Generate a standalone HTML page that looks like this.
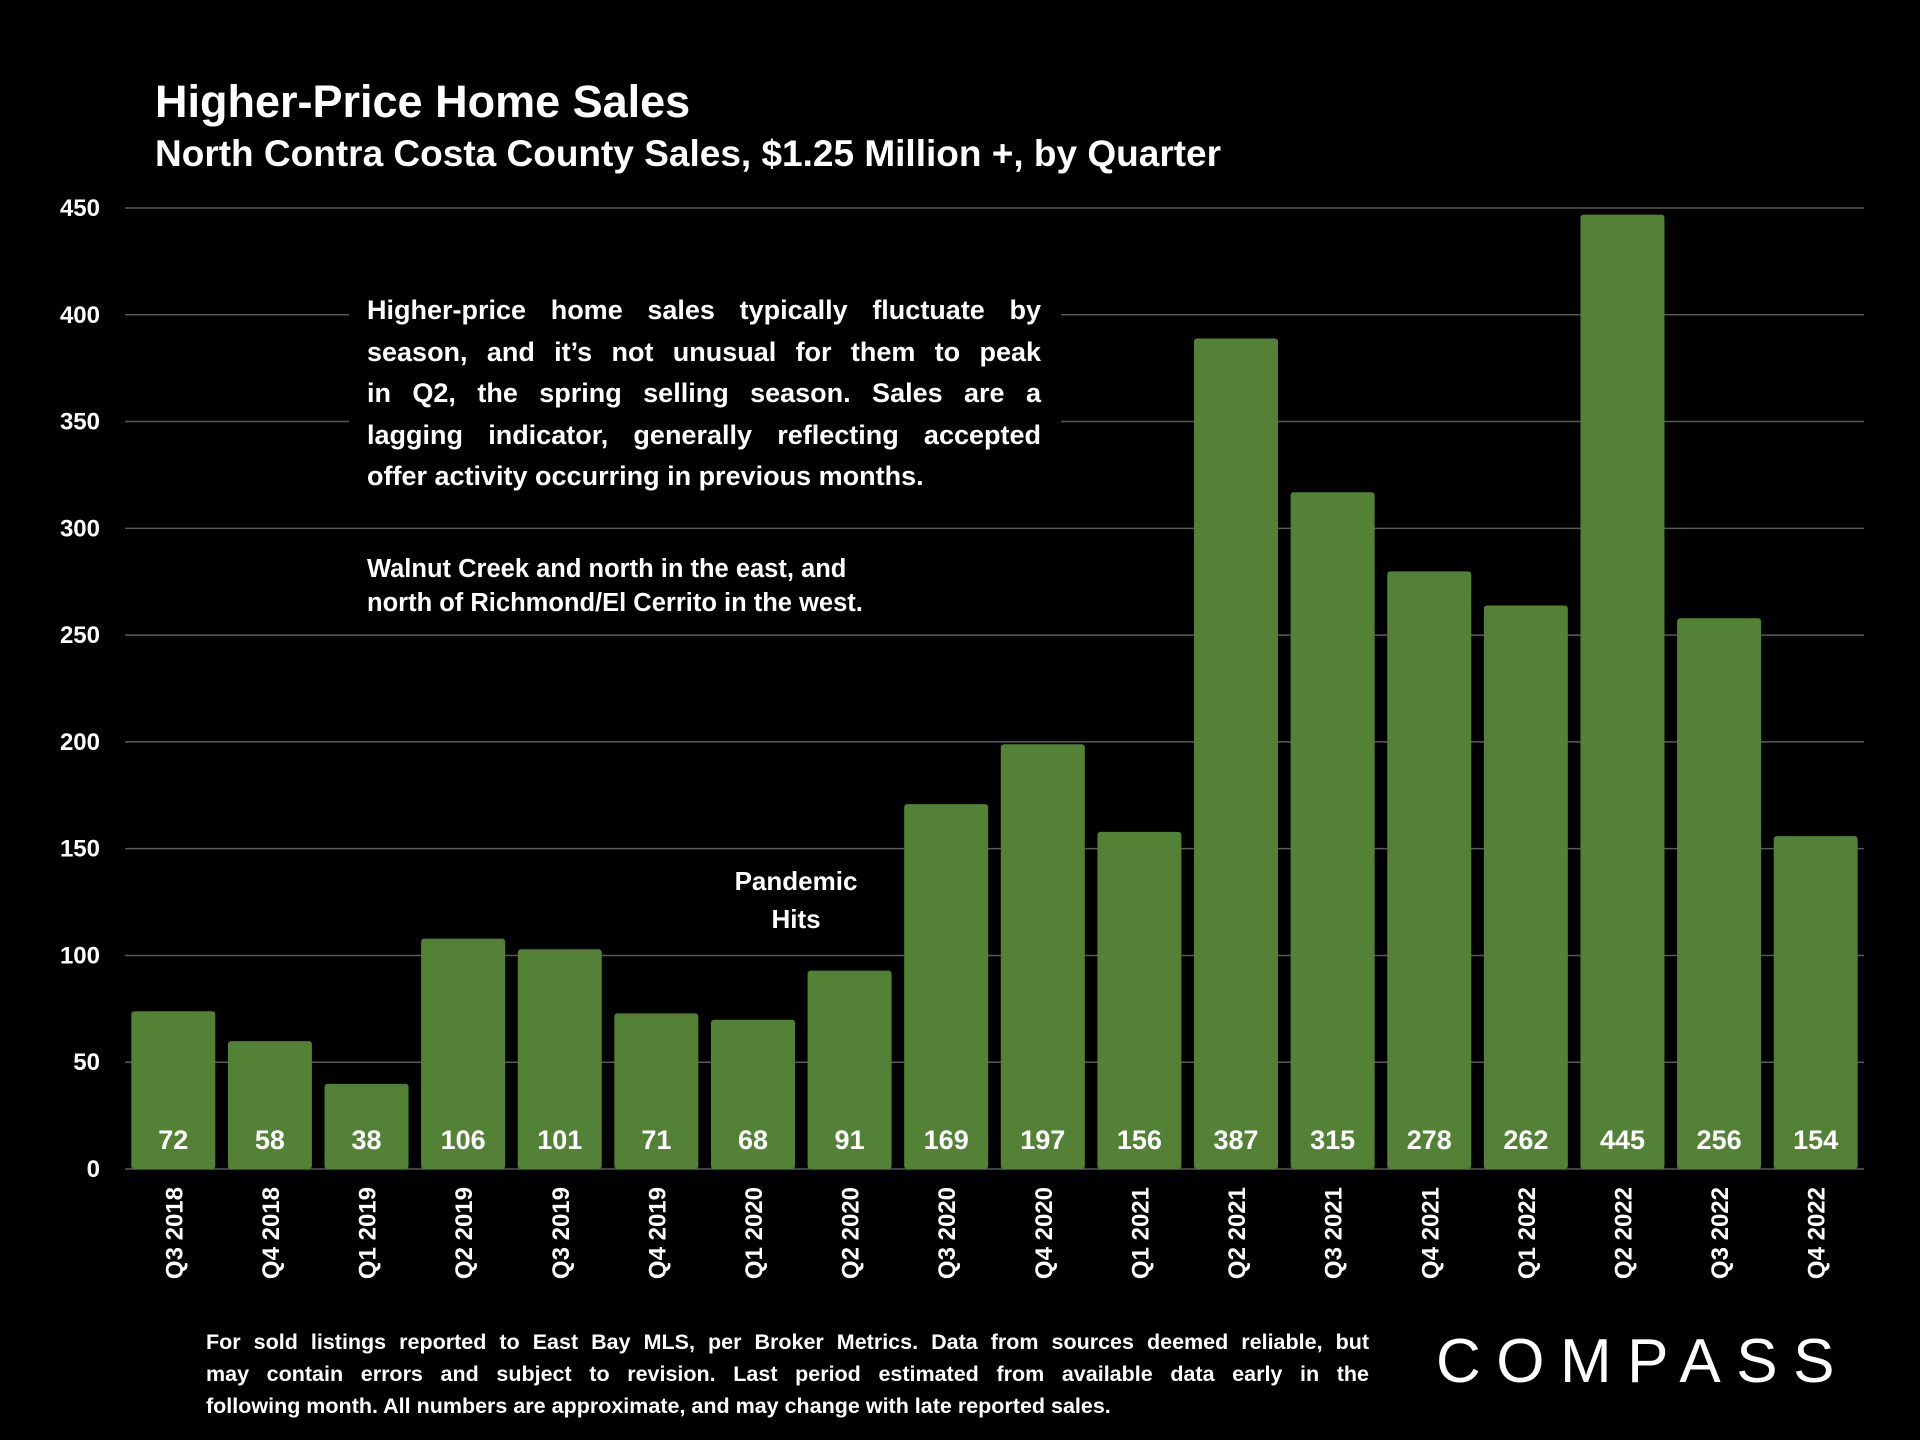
<!DOCTYPE html>
<html><head><meta charset="utf-8"><style>
body{margin:0;width:1920px;height:1440px;background:#000;overflow:hidden;font-family:"Liberation Sans",sans-serif;color:#fff}
.t{position:absolute;font-weight:bold;white-space:nowrap}
.j{text-align:justify;text-align-last:justify;white-space:nowrap}
.l{text-align:left;white-space:nowrap}
</style></head><body>
<div class="t" style="left:155px;top:76px;font-size:45px">Higher-Price Home Sales</div>
<div class="t" style="left:155px;top:133px;font-size:37px">North Contra Costa County Sales, $1.25 Million +, by Quarter</div>
<svg id="c" width="1920" height="1440" style="position:absolute;left:0;top:0"></svg>
<div style="position:absolute;left:349px;top:288px;width:712px;height:208px;background:#000"></div>
<div class="t" style="left:367px;top:290px;width:674px;font-size:27px;line-height:41.6px">
<div class="j">Higher-price home sales typically fluctuate by</div>
<div class="j">season, and it’s not unusual for them to peak</div>
<div class="j">in Q2, the spring selling season. Sales are a</div>
<div class="j">lagging indicator, generally reflecting accepted</div>
<div class="l">offer activity occurring in previous months.</div>
</div>
<div class="t" style="left:367px;top:552px;font-size:25.5px;line-height:34px">Walnut Creek and north in the east, and<br>north of Richmond/El Cerrito in the west.</div>
<div class="t" style="left:696px;top:862px;width:200px;text-align:center;font-size:26px;line-height:38px">Pandemic<br>Hits</div>
<div class="t" style="left:206px;top:1326px;width:1163px;font-size:21.5px;line-height:32px">
<div class="j">For sold listings reported to East Bay MLS, per Broker Metrics. Data from sources deemed reliable, but</div>
<div class="j">may contain errors and subject to revision. Last period estimated from available data early in the</div>
<div class="l">following month. All numbers are approximate, and may change with late reported sales.</div>
</div>
<div class="t" style="left:1436px;top:1326px;font-size:62px;font-weight:normal;letter-spacing:15.5px">COMPASS</div>
<script>
const categories=["Q3 2018","Q4 2018","Q1 2019","Q2 2019","Q3 2019","Q4 2019","Q1 2020","Q2 2020","Q3 2020","Q4 2020","Q1 2021","Q2 2021","Q3 2021","Q4 2021","Q1 2022","Q2 2022","Q3 2022","Q4 2022"];
const sales=[72,58,38,106,101,71,68,91,169,197,156,387,315,278,262,445,256,154];
const yTicks=[0,50,100,150,200,250,300,350,400,450];
const svg=document.getElementById('c');const NS='http://www.w3.org/2000/svg';
const y0=1169,y1=208,x0=125,x1=1864;
const yS=v=>y0-(v/450)*(y0-y1);
const step=(x1-x0)/categories.length;const xS=i=>x0+step*(i+0.5);const bw=84;
function mk(t,a,txt){const e=document.createElementNS(NS,t);for(const k in a)e.setAttribute(k,a[k]);if(txt!==undefined)e.textContent=txt;svg.appendChild(e);return e;}
yTicks.forEach(v=>{
 const l=mk('line',{x1:x0,x2:x1,y1:yS(v),y2:yS(v),stroke:'#595959','stroke-width':1.5});
 
 
 const t=mk('text',{x:100,y:yS(v)+8,'text-anchor':'end','font-size':24,'font-weight':'bold',fill:'#fff'},v);
 
 
});
sales.forEach((v,i)=>{
 const cx=xS(i);
 const r=mk('rect',{x:cx-bw/2,y:yS(v)-4,width:bw,height:y0-yS(v)+4,fill:'#538135',rx:3});
 
 
 const t=mk('text',{x:cx,y:1149,'text-anchor':'middle','font-size':27,'font-weight':'bold',fill:'#fff'},v);
 
 
 const x=mk('text',{x:0,y:0,transform:`translate(${cx+9},1187) rotate(-90)`,'text-anchor':'end','font-size':24,'font-weight':'bold',fill:'#fff'},categories[i]);
 
 
});
</script>
</body></html>
